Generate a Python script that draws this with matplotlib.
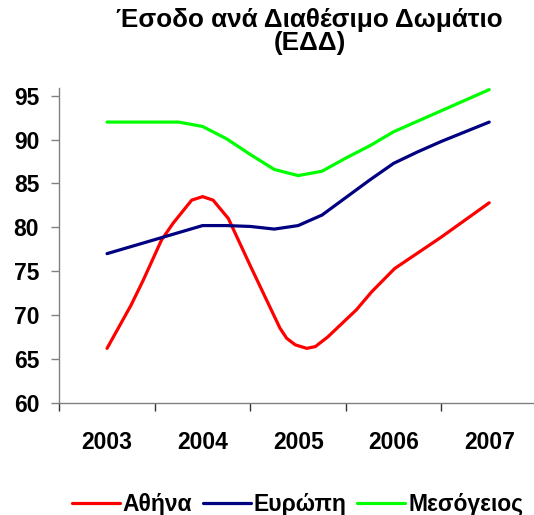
import numpy as np
import matplotlib
matplotlib.use("Agg")
import matplotlib.pyplot as plt
from matplotlib.ticker import FixedLocator

plt.rcParams['font.family'] = ['Liberation Sans', 'DejaVu Sans']
plt.rcParams['font.weight'] = 'bold'

# readings (year fractions)
quarters = 2003 + np.arange(17) / 4
athens_x = [2003.0, 2003.25, 2003.38, 2003.57, 2003.69, 2003.886, 2004.0,
            2004.11, 2004.27, 2004.5, 2004.81, 2004.88, 2004.97, 2005.09,
            2005.18, 2005.31, 2005.61, 2005.77, 2006.01, 2006.5, 2007.0]
athens = [66.2, 71.1, 74.0, 78.55, 80.45, 83.1, 83.5,
          83.1, 81.0, 75.6, 68.5, 67.35, 66.6, 66.2,
          66.4, 67.5, 70.6, 72.65, 75.3, 78.9, 82.8]
europe = [77.0, 77.8, 78.6, 79.4, 80.2, 80.2, 80.1, 79.8, 80.2, 81.4,
          83.4, 85.4, 87.3, 88.6, 89.8, 90.9, 92.0]
medit = [92.0, 92.0, 92.0, 92.0, 91.5, 90.1, 88.3, 86.6, 85.9, 86.4,
         87.9, 89.3, 90.9, 92.1, 93.3, 94.5, 95.7]

years = [2003, 2004, 2005, 2006, 2007]
series_names = ['Αθήνα', 'Ευρώπη', 'Μεσόγειος']
colors = ['#FF0000', '#000080', '#00FF00']

fs = 16.5
axis_col = '#808080'

fig = plt.figure(figsize=(5.34, 5.15), dpi=100)
ax = fig.add_axes([0.111, 0.218, 0.8946, 0.6105])

xs = [athens_x, quarters, quarters]
for x, vals, name, c in zip(xs, [athens, europe, medit], series_names, colors):
    ax.plot(x, vals, color=c, lw=2.3, label=name,
            solid_joinstyle='round', solid_capstyle='round')

ax.set_xlim(2002.5, 2007.5)
ax.set_ylim(60, 95.85)
ax.set_yticks(np.arange(60, 96, 5))
ax.set_xticks(years)
ax.set_xticklabels([str(y) for y in years])
ax.xaxis.set_minor_locator(FixedLocator(np.arange(2002.5, 2008, 1.0)))

ax.tick_params(axis='x', which='major', length=0, pad=20, labelsize=fs)
ax.tick_params(axis='x', which='minor', length=6, width=1, color='#333333',
               direction='out')
ax.tick_params(axis='y', which='major', length=6, width=1, color=axis_col,
               direction='out', pad=8.5, labelsize=fs)

for s in ['top', 'right']:
    ax.spines[s].set_visible(False)
for s in ['left', 'bottom']:
    ax.spines[s].set_color(axis_col)
    ax.spines[s].set_linewidth(1)

fig.text(0.5795, 0.985, 'Έσοδο ανά Διαθέσιμο Δωμάτιο\n(ΕΔΔ)', ha='center',
         va='top', fontsize=18.8, fontweight='bold', linespacing=0.95)

fig.legend(loc='lower center', bbox_to_anchor=(0.557, -0.019), ncol=3,
           frameon=False, fontsize=fs, handlelength=2.1, handletextpad=0.13,
           columnspacing=0.45, borderaxespad=0)

fig.savefig('out.png', dpi=100)
